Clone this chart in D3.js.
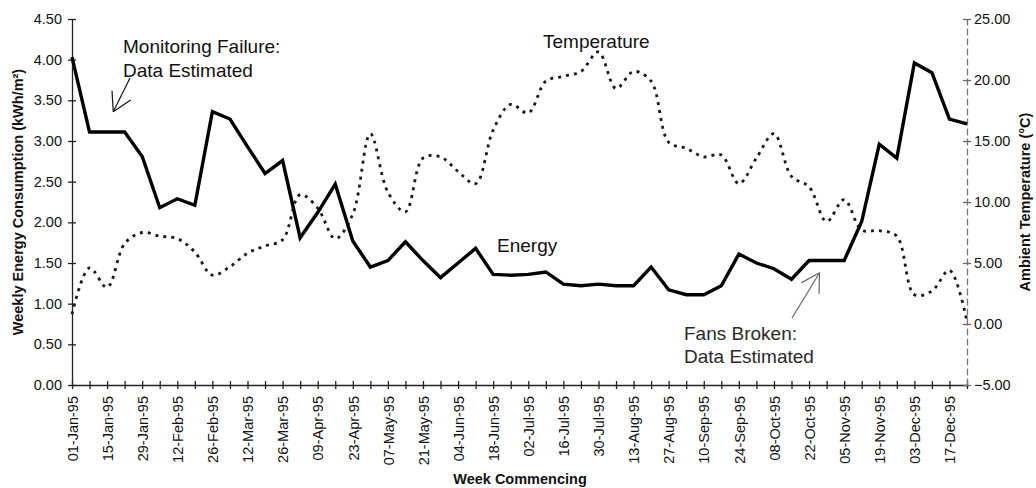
<!DOCTYPE html>
<html>
<head>
<meta charset="utf-8">
<script src="https://cdn.jsdelivr.net/npm/d3@7"></script>
<style>
  body { margin: 0; background: #fff; }
  svg { font-family: "Liberation Sans", Arial, sans-serif; }
  .axis text { font-size: 14.5px; fill: #111; }
  .axis line, .axis path { stroke: #222; stroke-width: 1.3; }
  .title { font-size: 14.5px; font-weight: bold; fill: #111; }
  .note { font-size: 19px; fill: #111; }
</style>
</head>
<body>
<div id="chart"></div>
<script>
// Weekly data for 1995 (week index 0 = 01-Jan-95)
var weeks = d3.range(52);

// labels every second week
var weekLabels = ["01-Jan-95", "15-Jan-95", "29-Jan-95", "12-Feb-95", "26-Feb-95", "12-Mar-95",
  "26-Mar-95", "09-Apr-95", "23-Apr-95", "07-May-95", "21-May-95", "04-Jun-95", "18-Jun-95",
  "02-Jul-95", "16-Jul-95", "30-Jul-95", "13-Aug-95", "27-Aug-95", "10-Sep-95", "24-Sep-95",
  "08-Oct-95", "22-Oct-95", "05-Nov-95", "19-Nov-95", "03-Dec-95", "17-Dec-95"];

// weekly energy consumption (kWh/m2)
var energy = [4.03, 3.11, 3.11, 3.11, 2.81, 2.18, 2.29, 2.21, 3.36, 3.27,
  2.93, 2.60, 2.76, 1.81, 2.12, 2.47, 1.77, 1.45, 1.53, 1.76,
  1.53, 1.32, 1.50, 1.68, 1.36, 1.35, 1.36, 1.39, 1.24, 1.22,
  1.24, 1.22, 1.22, 1.45, 1.17, 1.11, 1.11, 1.22, 1.61, 1.50,
  1.43, 1.30, 1.53, 1.53, 1.53, 2.01, 2.96, 2.79, 3.96, 3.84,
  3.27, 3.21];

// ambient temperature (deg C)
var temperature = [0.8, 4.6, 3.0, 6.6, 7.5, 7.2, 7.0, 5.9, 4.0, 4.7,
  5.8, 6.4, 6.9, 10.6, 9.5, 7.0, 9.0, 15.6, 10.8, 9.2,
  13.6, 13.7, 12.5, 11.5, 15.9, 18.0, 17.3, 19.9, 20.3, 20.7,
  22.3, 19.3, 20.7, 19.9, 14.9, 14.4, 13.7, 13.85, 11.5, 13.6,
  15.6, 12.1, 11.25, 8.4, 10.2, 7.7, 7.65, 7.2, 2.4, 2.7,
  4.4, 0.2];

var energyTicks = [0, 0.5, 1, 1.5, 2, 2.5, 3, 3.5, 4, 4.5];
var tempTicks = [-5, 0, 5, 10, 15, 20, 25];

var width = 1036;
var height = 488;

var svg = d3.select('#chart')
  .append('svg')
  .attr('width', width)
  .attr('height', height);

// scales
var x = d3.scaleLinear().domain([0, 51]).range([72, 967]);
var yLeft = d3.scaleLinear().domain([0, 4.5]).range([385, 19]);
var yRight = d3.scaleLinear().domain([-5, 25]).range([385, 19]);

// x axis, tick every week, label every second week
var xAxis = svg.append('g')
  .attr('class', 'axis')
  .attr('transform', 'translate(0,' + yLeft(0) + ')')
  .call(d3.axisBottom(x)
    .tickValues(weeks)
    .tickSizeInner(4)
    .tickSizeOuter(0)
    .tickFormat(function (d) { return d % 2 === 0 ? weekLabels[d / 2] : ''; }));
xAxis.selectAll('line').attr('y1', -4);
xAxis.selectAll('text')
  .attr('transform', 'rotate(-90)')
  .attr('text-anchor', 'end')
  .attr('x', -11)
  .attr('y', 0)
  .attr('dy', '0.36em');

// left axis
var leftAxis = svg.append('g')
  .attr('class', 'axis')
  .attr('transform', 'translate(' + x(0) + ',0)')
  .call(d3.axisLeft(yLeft)
    .tickValues(energyTicks)
    .tickSizeInner(4)
    .tickSizeOuter(0)
    .tickPadding(6)
    .tickFormat(d3.format('.2f')));
leftAxis.selectAll('line').attr('x1', 4);

// right axis (dashed in the original)
var rightAxis = svg.append('g')
  .attr('class', 'axis')
  .attr('transform', 'translate(' + x(51) + ',0)')
  .call(d3.axisRight(yRight)
    .tickValues(tempTicks)
    .tickSizeInner(4)
    .tickSizeOuter(0)
    .tickPadding(3)
    .tickFormat(d3.format('.2f')));
rightAxis.selectAll('line').attr('x1', -4).style('stroke', '#666');
rightAxis.select('.domain')
  .style('stroke', '#777')
  .style('stroke-dasharray', '7,3');

// temperature - smoothed dotted line
var tempLine = d3.line()
  .x(function (d, i) { return x(i); })
  .y(function (d) { return yRight(d); })
  .curve(d3.curveCatmullRom.alpha(0.5));

svg.append('path')
  .datum(temperature)
  .attr('d', tempLine)
  .attr('fill', 'none')
  .attr('stroke', '#1a1a1a')
  .attr('stroke-width', 2.8)
  .attr('stroke-dasharray', '3,5');

// energy - solid line
var energyLine = d3.line()
  .x(function (d, i) { return x(i); })
  .y(function (d) { return yLeft(d); });

svg.append('path')
  .datum(energy)
  .attr('d', energyLine)
  .attr('fill', 'none')
  .attr('stroke', '#000')
  .attr('stroke-width', 3.4)
  .attr('stroke-linejoin', 'miter');

// axis titles
svg.append('text')
  .attr('class', 'title')
  .attr('transform', 'translate(23,' + yLeft(2.25) + ') rotate(-90)')
  .attr('text-anchor', 'middle')
  .text('Weekly Energy Consumption (kWh/m²)');

svg.append('text')
  .attr('class', 'title')
  .attr('transform', 'translate(1030,' + yRight(10) + ') rotate(-90)')
  .attr('text-anchor', 'middle')
  .text('Ambient Temperature (°C)');

svg.append('text')
  .attr('class', 'title')
  .attr('x', 520)
  .attr('y', 484)
  .attr('text-anchor', 'middle')
  .text('Week Commencing');

// annotations
function arrow(x1, y1, x2, y2, colour) {
  var ang = Math.atan2(y1 - y2, x1 - x2);
  var len = 21;
  var g = svg.append('g')
    .attr('stroke', colour)
    .attr('stroke-width', 1.2)
    .attr('fill', 'none');
  g.append('line').attr('x1', x1).attr('y1', y1).attr('x2', x2).attr('y2', y2);
  [-0.52, 0.52].forEach(function (a) {
    g.append('line')
      .attr('x1', x2).attr('y1', y2)
      .attr('x2', x2 + len * Math.cos(ang + a))
      .attr('y2', y2 + len * Math.sin(ang + a));
  });
}

svg.append('text').attr('class', 'note').attr('x', 123).attr('y', 53).text('Monitoring Failure:');
svg.append('text').attr('class', 'note').attr('x', 123).attr('y', 77).text('Data Estimated');
arrow(130, 78, x(2.35), yLeft(3.36), '#111');

svg.append('text').attr('class', 'note').attr('x', 543).attr('y', 48).text('Temperature');
svg.append('text').attr('class', 'note').attr('x', 497).attr('y', 252).text('Energy');

svg.append('text').attr('class', 'note').attr('x', 684).attr('y', 340).style('fill', '#2a2a2a').text('Fans Broken:');
svg.append('text').attr('class', 'note').attr('x', 684).attr('y', 363).style('fill', '#2a2a2a').text('Data Estimated');
arrow(792, 318, x(42.6), yLeft(1.38), '#666');
</script>
</body>
</html>
